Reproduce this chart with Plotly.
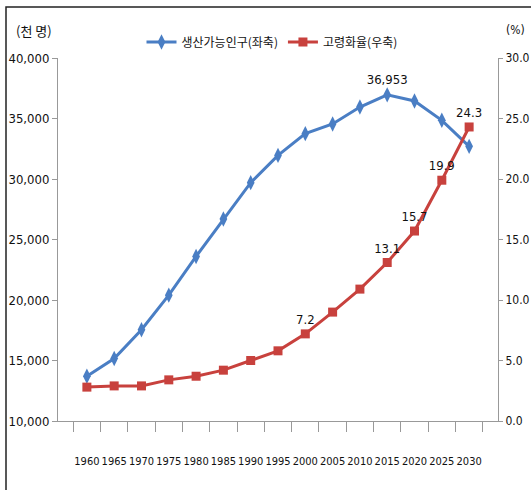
import plotly.graph_objects as go

# Working-age population (thousand persons, left axis) and aged-population ratio (%, right axis)
years = ["1960", "1965", "1970", "1975", "1980", "1985", "1990", "1995",
         "2000", "2005", "2010", "2015", "2020", "2025", "2030"]
working_age = [13695, 15168, 17540, 20400, 23600, 26700, 29700, 31950,
               33750, 34550, 35950, 36953, 36450, 34850, 32700]
aged_ratio = [2.8, 2.9, 2.9, 3.4, 3.7, 4.2, 5.0, 5.8,
              7.2, 9.0, 10.9, 13.1, 15.7, 19.9, 24.3]

working_labels = ["36,953" if v == 36953 else "" for v in working_age]
aged_shown = {7.2, 13.1, 15.7, 19.9, 24.3}
aged_labels = [f"{v:.1f}" if v in aged_shown else "" for v in aged_ratio]

FONT = "DejaVu Sans Condensed, Noto Sans CJK KR, sans-serif"
KFONT = "Noto Sans CJK KR, sans-serif"
BLUE = "#4A7EC4"
RED = "#C8413D"

fig = go.Figure()
fig.add_trace(go.Scatter(
    x=years, y=working_age, name="생산가능인구(좌축)", mode="lines+markers+text",
    line=dict(color=BLUE, width=3),
    marker=dict(symbol="diamond-tall", size=11, color=BLUE),
    text=working_labels, textposition="top center",
    textfont=dict(family=FONT, size=13, color="#111"),
    yaxis="y", cliponaxis=False,
))
fig.add_trace(go.Scatter(
    x=years, y=aged_ratio, name="고령화율(우축)", mode="lines+markers+text",
    line=dict(color=RED, width=3),
    marker=dict(symbol="square", size=9, color=RED),
    text=aged_labels, textposition="top center",
    textfont=dict(family=FONT, size=13, color="#111"),
    yaxis="y2", cliponaxis=False,
))

fig.update_layout(
    width=531, height=490,
    margin=dict(l=58, r=33, t=58, b=69, autoexpand=False),
    paper_bgcolor="white", plot_bgcolor="white",
    font=dict(family=FONT, size=13, color="#111"),
    showlegend=True,
    legend=dict(orientation="h", xref="container", yref="container",
                x=272 / 531, y=1 - 42 / 490, xanchor="center", yanchor="middle",
                font=dict(family=KFONT, size=12), itemwidth=30,
                bgcolor="rgba(0,0,0,0)"),
    xaxis=dict(
        type="category", showgrid=False, showline=True, linecolor="#999",
        linewidth=1, ticks="outside", tickson="boundaries", ticklen=10,
        tickcolor="#999", ticklabelstandoff=30, tickangle=0, automargin=False,
        tickfont=dict(family=FONT, size=11),
    ),
    yaxis=dict(
        range=[10000, 40000], dtick=5000, tickformat=",", showgrid=False,
        showline=True, linecolor="#999", linewidth=1, ticks="outside",
        ticklen=5, tickcolor="#999", zeroline=False, automargin=False,
        tickfont=dict(family=FONT, size=13),
    ),
    yaxis2=dict(
        range=[0, 30], dtick=5, tickformat=".1f", overlaying="y", side="right",
        showgrid=False, showline=True, linecolor="#999", linewidth=1,
        ticks="outside", ticklen=4, tickcolor="#999", zeroline=False,
        automargin=False, ticklabelstandoff=0,
        tickfont=dict(family=FONT, size=12),
    ),
    annotations=[
        dict(text="(천 명)", xref="paper", yref="paper", x=(34 - 58) / 440,
             y=(421 - 30) / 363, xanchor="center", yanchor="middle",
             showarrow=False, font=dict(family=KFONT, size=13)),
        dict(text="(%)", xref="paper", yref="paper", x=(515 - 58) / 440,
             y=(421 - 30) / 363, xanchor="center", yanchor="middle",
             showarrow=False, font=dict(family=FONT, size=12)),
    ],
    shapes=[
        dict(type="rect", xref="paper", yref="paper",
             x0=(6 - 58) / 440, x1=(540 - 58) / 440,
             y0=(421 - 500) / 363, y1=(421 - 7) / 363,
             line=dict(color="#222", width=1.5), fillcolor="rgba(0,0,0,0)",
             layer="above"),
    ],
)

fig.write_html("out.html")
